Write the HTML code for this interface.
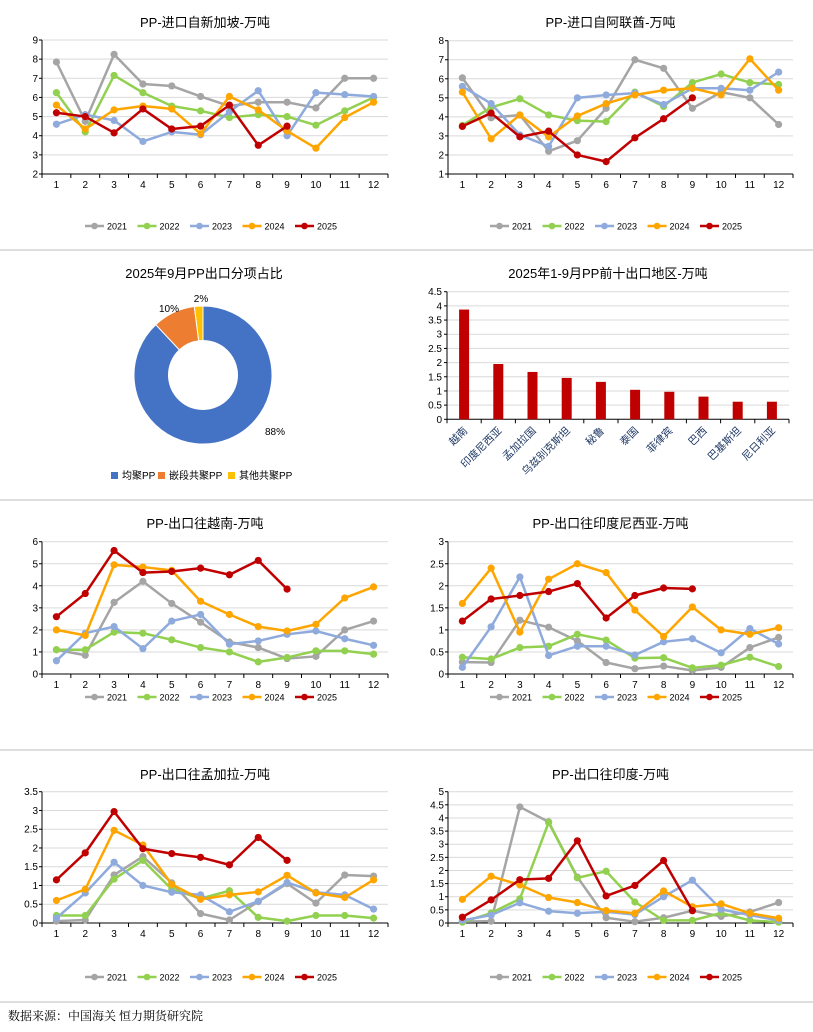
<!DOCTYPE html>
<html><head><meta charset="utf-8"><style>
body{margin:0;background:#fff;}
svg{display:block;font-family:"Liberation Sans","Noto Sans CJK SC",sans-serif;}
</style></head><body>
<svg id="s" width="813" height="1032" viewBox="0 0 813 1032"></svg>
<script>
const months=['1','2','3','4','5','6','7','8','9','10','11','12'];
const years=['2021','2022','2023','2024','2025'];
const colors=['#a5a5a5','#92d050','#8faadc','#ffa500','#c00000'];
// Chart 1: Singapore
const sg2021=[7.85,4.75,8.25,6.7,6.6,6.05,5.55,5.75,5.75,5.45,7.0,7.0];
const sg2022=[6.25,4.2,7.15,6.25,5.55,5.3,4.95,5.1,5.0,4.55,5.3,6.0];
const sg2023=[4.6,5.1,4.8,3.7,4.2,4.05,5.25,6.35,4.0,6.25,6.15,6.05];
const sg2024=[5.6,4.35,5.35,5.55,5.4,4.1,6.05,5.35,4.25,3.35,4.95,5.75];
const sg2025=[5.2,5.0,4.15,5.4,4.35,4.5,5.6,3.5,4.5];
// Chart 2: UAE
const ae2021=[6.05,3.95,4.1,2.2,2.75,4.45,7.0,6.55,4.45,5.3,5.0,3.6];
const ae2022=[3.55,4.5,4.95,4.1,3.8,3.75,5.3,4.55,5.8,6.25,5.8,5.7];
const ae2023=[5.6,4.7,3.05,2.45,5.0,5.15,5.25,4.65,5.5,5.5,5.4,6.35];
const ae2024=[5.3,2.85,4.1,2.95,4.05,4.7,5.15,5.4,5.5,5.15,7.05,5.4];
const ae2025=[3.5,4.2,2.95,3.25,2.0,1.65,2.9,3.9,5.0];
// Chart 3: Vietnam
const vn2021=[1.1,0.85,3.25,4.2,3.2,2.35,1.45,1.2,0.7,0.8,2.0,2.4];
const vn2022=[1.1,1.1,1.9,1.85,1.55,1.2,1.0,0.55,0.75,1.05,1.05,0.9];
const vn2023=[0.6,1.85,2.15,1.15,2.4,2.7,1.35,1.5,1.8,1.95,1.6,1.3];
const vn2024=[2.0,1.75,4.95,4.85,4.7,3.3,2.7,2.15,1.95,2.25,3.45,3.95];
const vn2025=[2.6,3.65,5.6,4.6,4.65,4.8,4.5,5.15,3.85];
// Chart 4: Indonesia
const id2021=[0.27,0.26,1.22,1.06,0.75,0.26,0.12,0.18,0.08,0.15,0.6,0.83];
const id2022=[0.38,0.34,0.6,0.63,0.9,0.77,0.36,0.37,0.14,0.2,0.38,0.17];
const id2023=[0.15,1.07,2.2,0.42,0.63,0.63,0.43,0.73,0.8,0.48,1.03,0.68];
const id2024=[1.6,2.4,0.95,2.15,2.5,2.3,1.45,0.85,1.52,1.0,0.9,1.05];
const id2025=[1.2,1.7,1.78,1.87,2.05,1.27,1.78,1.95,1.93];
// Chart 5: Bangladesh
const bd2021=[0.05,0.08,1.28,1.77,1.07,0.25,0.08,0.57,1.05,0.53,1.28,1.25];
const bd2022=[0.2,0.2,1.17,1.67,0.9,0.65,0.86,0.15,0.05,0.2,0.2,0.13];
const bd2023=[0.13,0.8,1.62,1.0,0.82,0.75,0.3,0.58,1.08,0.82,0.75,0.37];
const bd2024=[0.6,0.9,2.47,2.08,1.03,0.63,0.75,0.83,1.27,0.8,0.68,1.15];
const bd2025=[1.15,1.87,2.97,1.98,1.85,1.75,1.55,2.28,1.67];
// Chart 6: India
const in2021=[0.05,0.07,4.42,3.85,1.75,0.2,0.05,0.2,0.47,0.25,0.42,0.78];
const in2022=[0.03,0.38,0.92,3.83,1.72,1.97,0.8,0.1,0.1,0.38,0.1,0.03];
const in2023=[0.1,0.3,0.77,0.45,0.37,0.43,0.32,1.0,1.63,0.52,0.3,0.1];
const in2024=[0.9,1.78,1.45,0.97,0.78,0.47,0.37,1.22,0.62,0.73,0.37,0.18];
const in2025=[0.22,0.88,1.65,1.7,3.13,1.03,1.43,2.38,0.47];
// Bar chart
const barCats=['越南','印度尼西亚','孟加拉国','乌兹别克斯坦','秘鲁','泰国','菲律宾','巴西','巴基斯坦','尼日利亚'];
const barVals=[3.87,1.95,1.67,1.46,1.32,1.04,0.97,0.80,0.62,0.62];
const barTicks=['0','0.5','1','1.5','2','2.5','3','3.5','4','4.5'];
// Pie
const pieLabels=['均聚PP','嵌段共聚PP','其他共聚PP'];
const pieVals=[88,10,2];
const pieColors=['#4472c4','#ed7d31','#ffc000'];

const S=document.getElementById('s');
const NS='http://www.w3.org/2000/svg';
function el(tag,attrs,parent){const e=document.createElementNS(NS,tag);for(const k in attrs)e.setAttribute(k,attrs[k]);(parent||S).appendChild(e);return e;}
function txt(x,y,t,size,anchor,parent,fill){const e=el('text',{x:x,y:y,'font-size':size,'text-anchor':anchor||'middle',fill:fill||'#000'},parent);e.textContent=t;return e;}

// separators
[250,500,750,1002].forEach((y,i)=>{const l=el('line',{x1:0,x2:813,y1:y,y2:y,stroke:'#bfbfbf','stroke-width':1});

});

function lineChart(cfg){
 const g=el('g',{});
 
 
 const {x0,x1,yTop,yBot,min,max,step,ticks}=cfg;
 const n=months.length,cw=(x1-x0)/n;
 const xs=i=>x0+cw*(i+0.5);
 const ys=v=>yBot-(v-min)/(max-min)*(yBot-yTop);
 const t=txt((x0+x1)/2-10,cfg.titleY,cfg.title,13,'middle',g);
 
 
 ticks.forEach(tk=>{const v=parseFloat(tk);const y=ys(v);
  if(v>min)el('line',{x1:x0,x2:x1,y1:y,y2:y,stroke:'#d9d9d9','stroke-width':1},g);
  el('line',{x1:x0-3,x2:x0,y1:y,y2:y,stroke:'#000'},g);
  const l=txt(x0-4,y+3.5,tk,10,'end',g);
  
  
 });
 el('line',{x1:x0,x2:x0,y1:yTop,y2:yBot,stroke:'#000'},g);
 el('line',{x1:x0,x2:x1,y1:yBot,y2:yBot,stroke:'#000'},g);
 for(let i=0;i<=n;i++)el('line',{x1:x0+cw*i,x2:x0+cw*i,y1:yBot,y2:yBot+4,stroke:'#000'},g);
 months.forEach((m,i)=>{const l=txt(xs(i),yBot+14,m,10,'middle',g);
  
  });
 cfg.series.forEach((arr,si)=>{
  const s=el('g',{},g);
  
  
  el('polyline',{points:arr.map((v,i)=>xs(i)+','+ys(v)).join(' '),fill:'none',stroke:colors[si],'stroke-width':2.5,'stroke-linejoin':'round'},s);
  arr.forEach((v,i)=>{const c=el('circle',{cx:xs(i),cy:ys(v),r:3.6,fill:colors[si]},s);
   
   });
 });
 years.forEach((yr,i)=>{const lx=cfg.legX+i*52.5,ly=cfg.legY;
  const lg=el('g',{},g);
  
  
  el('line',{x1:lx,x2:lx+19,y1:ly,y2:ly,stroke:colors[i],'stroke-width':2.5},lg);
  el('circle',{cx:lx+9.5,cy:ly,r:3.3,fill:colors[i]},lg);
  txt(lx+22,ly+3.5,yr,9,'start',lg);
 });
}
const lx=42,lx1=388,rx=448,rx1=793;
lineChart({name:'chart-singapore',title:'PP-进口自新加坡-万吨',titleY:27,x0:lx,x1:lx1,yTop:40,yBot:174,min:2,max:9,ticks:['2','3','4','5','6','7','8','9'],series:[sg2021,sg2022,sg2023,sg2024,sg2025],legX:85,legY:226});
lineChart({name:'chart-uae',title:'PP-进口自阿联酋-万吨',titleY:27,x0:rx,x1:rx1,yTop:40.7,yBot:174,min:1,max:8,ticks:['1','2','3','4','5','6','7','8'],series:[ae2021,ae2022,ae2023,ae2024,ae2025],legX:490,legY:226});
lineChart({name:'chart-vietnam',title:'PP-出口往越南-万吨',titleY:528,x0:lx,x1:lx1,yTop:541.7,yBot:674,min:0,max:6,ticks:['0','1','2','3','4','5','6'],series:[vn2021,vn2022,vn2023,vn2024,vn2025],legX:85,legY:697});
lineChart({name:'chart-indonesia',title:'PP-出口往印度尼西亚-万吨',titleY:528,x0:rx,x1:rx1,yTop:541.7,yBot:674,min:0,max:3,ticks:['0','0.5','1','1.5','2','2.5','3'],series:[id2021,id2022,id2023,id2024,id2025],legX:490,legY:697});
lineChart({name:'chart-bangladesh',title:'PP-出口往孟加拉-万吨',titleY:779,x0:lx,x1:lx1,yTop:791.7,yBot:923,min:0,max:3.5,ticks:['0','0.5','1','1.5','2','2.5','3','3.5'],series:[bd2021,bd2022,bd2023,bd2024,bd2025],legX:85,legY:977});
lineChart({name:'chart-india',title:'PP-出口往印度-万吨',titleY:779,x0:rx,x1:rx1,yTop:791.7,yBot:923,min:0,max:5,ticks:['0','0.5','1','1.5','2','2.5','3','3.5','4','4.5','5'],series:[in2021,in2022,in2023,in2024,in2025],legX:490,legY:977});

// Bar chart
(function(){
 const g=el('g',{});
 
 
 const x0=447,x1=789,yTop=291.7,yBot=419.3,max=4.5;
 const cw=(x1-x0)/barCats.length;
 const ys=v=>yBot-v/max*(yBot-yTop);
 const t=txt(608,278,'2025年1-9月PP前十出口地区-万吨',13,'middle',g);
 
 
 barTicks.forEach(tk=>{const v=parseFloat(tk),y=ys(v);
  if(v>0)el('line',{x1:x0,x2:x1,y1:y,y2:y,stroke:'#d9d9d9'},g);
  el('line',{x1:x0-3,x2:x0,y1:y,y2:y,stroke:'#000'},g);
  txt(x0-5,y+3.5,tk,10,'end',g);});
 el('line',{x1:x0,x2:x0,y1:yTop,y2:yBot,stroke:'#000'},g);
 el('line',{x1:x0,x2:x1,y1:yBot,y2:yBot,stroke:'#000'},g);
 for(let i=0;i<=barCats.length;i++)el('line',{x1:x0+cw*i,x2:x0+cw*i,y1:yBot,y2:yBot+4,stroke:'#000'},g);
 barVals.forEach((v,i)=>{const cx=x0+cw*(i+0.5);
  const r=el('rect',{x:cx-5,y:ys(v),width:10,height:yBot-ys(v),fill:'#c00000'},g);
  
  
  const l=txt(cx+4,yBot+12,barCats[i],10.5,'end',g,'#1f3864');
  l.setAttribute('transform','rotate(-45 '+(cx+4)+' '+(yBot+12)+')');
  
  
 });
})();

// Donut
(function(){
 const g=el('g',{});
 
 
 const t=txt(204,278,'2025年9月PP出口分项占比',13,'middle',g);
 
 
 const cx=203,cy=375,R=69,r=34.5;
 const total=pieVals.reduce((a,b)=>a+b,0);
 let a=0;
 const labelPos=[[275,435],[169,312],[201,302]];
 pieVals.forEach((v,i)=>{
  const a0=a,a1=a+v/total*2*Math.PI;a=a1;
  const p=(ang,rad)=>[cx+rad*Math.sin(ang),cy-rad*Math.cos(ang)];
  const [x0,y0]=p(a0,R),[x1,y1]=p(a1,R),[x2,y2]=p(a1,r),[x3,y3]=p(a0,r);
  const lg=(a1-a0)>Math.PI?1:0;
  const s=el('path',{d:`M${x0},${y0}A${R},${R} 0 ${lg} 1 ${x1},${y1}L${x2},${y2}A${r},${r} 0 ${lg} 0 ${x3},${y3}Z`,fill:pieColors[i],stroke:'#fff','stroke-width':1},g);
  
  
  const l=txt(labelPos[i][0],labelPos[i][1],v+'%',10,'middle',g);
  
  
 });
 const lxs=[111,158,228];
 pieLabels.forEach((lab,i)=>{
  const lgE=el('g',{},g);
  
  
  el('rect',{x:lxs[i],y:472,width:7,height:7,fill:pieColors[i]},lgE);
  txt(lxs[i]+11,479,lab,10,'start',lgE);
 });
})();

const src=txt(8,1020,'数据来源：中国海关 恒力期货研究院',12,'start');
src.setAttribute('font-family','"Liberation Serif","Noto Serif CJK SC",serif');


</script>
</body></html>
